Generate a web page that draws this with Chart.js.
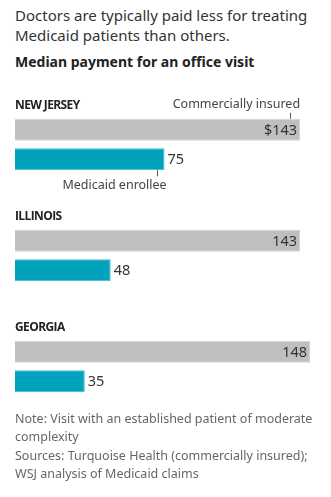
<!DOCTYPE html>
<html>
<head>
<meta charset="utf-8">
<script src="https://cdn.jsdelivr.net/npm/chart.js@4"></script>
<style>
  html, body { margin: 0; padding: 0; background: #fff; }
  body { width: 331px; height: 497px; position: relative; overflow: hidden; font-family: 'Noto Sans', sans-serif; }
  #title { position: absolute; left: 15px; top: 5px; width: 310px; font-size: 15px; line-height: 20px; color: #333; }
  #subtitle { position: absolute; left: 15px; top: 52px; font-size: 14px; font-weight: bold; color: #222; }
  #wrap { position: absolute; left: 0; top: 80px; width: 331px; height: 350px; }
  #note { position: absolute; left: 15px; top: 410px; width: 310px; font-size: 12.5px; line-height: 18.3px; color: #666; z-index: 2; }
</style>
</head>
<body>
<div id="title">Doctors are typically paid less for treating Medicaid patients than others.</div>
<div id="subtitle">Median payment for an office visit</div>
<div id="wrap"><canvas id="canvas" width="331" height="350"></canvas></div>
<div id="note">Note: Visit with an established patient of moderate complexity<br>Sources: Turquoise Health (commercially insured); WSJ analysis of Medicaid claims</div>
<script>
const canvas = document.getElementById('canvas');
const ctx = canvas.getContext('2d');

const states = ['NEW JERSEY', 'ILLINOIS', 'GEORGIA'];
const commercial = [143, 143, 148];
const medicaid = [75, 48, 35];

const grayFill = '#bfbfbf';
const tealFill = '#00a3bb';

// state names above each group, value labels and the two annotations
const labelsPlugin = {
  id: 'labels',
  afterDatasetsDraw(chart) {
    const c = chart.ctx;
    const gray = chart.getDatasetMeta(0).data;
    const teal = chart.getDatasetMeta(1).data;
    c.save();
    c.textBaseline = 'alphabetic';

    states.forEach((name, i) => {
      const g = gray[i];
      const top = g.y - g.height / 2;
      c.fillStyle = '#222';
      c.font = 'bold 12px "Open Sans", sans-serif';
      c.textAlign = 'left';
      if ('letterSpacing' in c) c.letterSpacing = '-0.6px';
      c.fillText(name, chart.chartArea.left, top - 10);
      if ('letterSpacing' in c) c.letterSpacing = '0px';

      // commercial value inside the bar
      c.font = '14.5px "Noto Sans", sans-serif';
      c.fillStyle = '#333';
      c.textAlign = 'right';
      c.fillText((i === 0 ? '$' : '') + commercial[i], g.x - 3, g.y + 5);

      // medicaid value right of the bar
      const t = teal[i];
      c.textAlign = 'left';
      c.fillText(medicaid[i], t.x + 3, t.y + 5);
    });

    // key annotations on the first group
    const g0 = gray[0];
    const t0 = teal[0];
    c.strokeStyle = '#555';
    c.lineWidth = 1;
    c.beginPath();
    c.moveTo(Math.round(g0.x - 10) + 0.5, g0.y - g0.height / 2 - 6);
    c.lineTo(Math.round(g0.x - 10) + 0.5, g0.y - g0.height / 2);
    c.moveTo(Math.round(t0.x - 8) + 0.5, t0.y + t0.height / 2);
    c.lineTo(Math.round(t0.x - 8) + 0.5, t0.y + t0.height / 2 + 6);
    c.stroke();

    c.font = '12.5px "Noto Sans", sans-serif';
    c.fillStyle = '#444';
    c.textAlign = 'right';
    c.fillText('Commercially insured', g0.x, g0.y - g0.height / 2 - 11);
    c.textAlign = 'center';
    c.fillText('Medicaid enrollee', t0.x - 50, t0.y + t0.height / 2 + 19);
    c.restore();
  }
};

new Chart(ctx, {
  type: 'bar',
  data: {
    labels: states,
    datasets: [
      {
        label: 'Commercially insured',
        data: commercial,
        backgroundColor: grayFill,
        borderColor: '#d2d2d2',
        borderWidth: 1,
      },
      {
        label: 'Medicaid enrollee',
        data: medicaid,
        backgroundColor: tealFill,
        borderColor: '#40bccd',
        borderWidth: 1,
      },
    ],
  },
  options: {
    indexAxis: 'y',
    responsive: false,
    animation: false,
    categoryPercentage: 0.532,
    barPercentage: 0.746,
    layout: { padding: { left: 15, right: 2, top: 9, bottom: 8 } },
    plugins: { legend: { display: false }, tooltip: { enabled: false } },
    scales: {
      x: { min: 0, max: 157.5, display: false },
      y: { display: false },
    },
  },
  plugins: [labelsPlugin],
});
</script>
</body>
</html>
